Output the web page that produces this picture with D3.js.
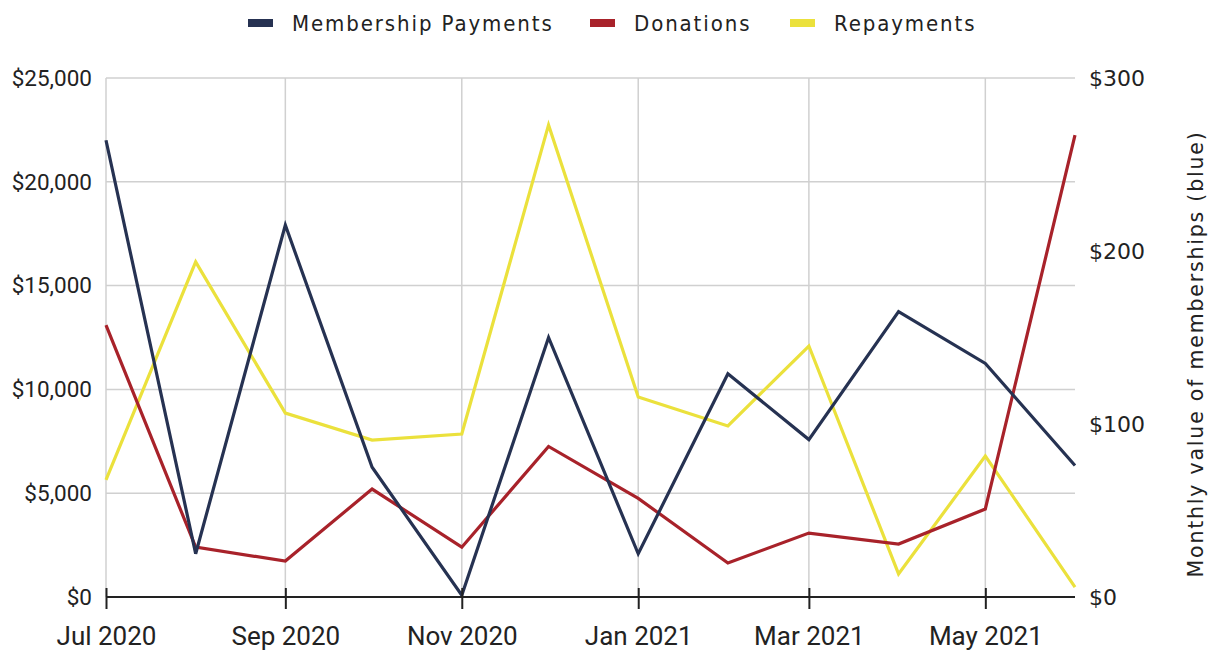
<!DOCTYPE html>
<html>
<head>
<meta charset="utf-8">
<script src="https://cdn.jsdelivr.net/npm/d3@7"></script>
<style>
  html, body { margin: 0; padding: 0; background: #fff; }
  svg { display: block; }
</style>
</head>
<body>
<svg id="chart" width="1219" height="657"></svg>
<script>
const months = ["2020-07","2020-08","2020-09","2020-10","2020-11","2020-12","2021-01","2021-02","2021-03","2021-04","2021-05","2021-06"];
const membershipPayments = [264, 25, 215, 75, 1, 150, 25, 129, 91, 165, 135, 76];
const donations = [13100, 2400, 1730, 5200, 2400, 7250, 4750, 1640, 3080, 2550, 4240, 22250];
const repayments = [5640, 16140, 8860, 7560, 7850, 22740, 9630, 8240, 12090, 1110, 6790, 480];
const leftTicks = [0, 5000, 10000, 15000, 20000, 25000];
const rightTicks = [0, 100, 200, 300];
const seriesNames = ["Membership Payments", "Donations", "Repayments"];
const seriesColors = ["#263252", "#a8222a", "#ebe13c"];

const parse = d3.timeParse("%Y-%m");
const dates = months.map(parse);

const svg = d3.select("#chart");
const margin = {left: 106, right: 1219 - 1075, top: 78, bottom: 657 - 597};
const W = 1219, H = 657;

const x = d3.scaleTime().domain([dates[0], dates[dates.length - 1]]).range([margin.left, W - margin.right]);
const yL = d3.scaleLinear().domain([0, 25000]).range([H - margin.bottom, margin.top]);
const yR = d3.scaleLinear().domain([0, 300]).range([H - margin.bottom, margin.top]);

const xTicks = dates.filter((d, i) => i % 2 === 0);

// horizontal grid
svg.append("g")
  .selectAll("line").data(leftTicks).join("line")
  .attr("x1", margin.left).attr("x2", W - margin.right)
  .attr("y1", d => yL(d)).attr("y2", d => yL(d))
  .attr("stroke", "#d0d0d0").attr("stroke-width", 1.5);

// vertical grid
svg.append("g")
  .selectAll("line").data(xTicks).join("line")
  .attr("x1", d => x(d)).attr("x2", d => x(d))
  .attr("y1", margin.top).attr("y2", H - margin.bottom)
  .attr("stroke", "#d0d0d0").attr("stroke-width", 1.5);

// left axis labels
const gl = svg.append("g").attr("transform", `translate(${margin.left},0)`)
  .call(d3.axisLeft(yL).tickValues(leftTicks).tickFormat(d => "$" + d3.format(",")(d)).tickSize(0).tickPadding(14));
gl.select(".domain").remove();
gl.selectAll("text").attr("font-family", "Roboto").attr("font-size", 22.5).attr("fill", "#222");

// right axis labels
const gr = svg.append("g").attr("transform", `translate(${W - margin.right},0)`)
  .call(d3.axisRight(yR).tickValues(rightTicks).tickFormat(d => "$" + d).tickSize(0).tickPadding(14));
gr.select(".domain").remove();
gr.selectAll("text").attr("font-family", "DejaVu Sans").attr("font-size", 22).attr("fill", "#222");

// right axis title
svg.append("text")
  .attr("transform", `translate(1203, 354) rotate(-90)`)
  .attr("text-anchor", "middle")
  .attr("font-family", "DejaVu Sans").attr("font-size", 20.5).attr("fill", "#222")
  .attr("letter-spacing", 1.8)
  .text("Monthly value of memberships (blue)");

// lines
function drawLine(values, scale, color) {
  const line = d3.line().x((d, i) => x(dates[i])).y(d => scale(d));
  svg.append("path").datum(values)
    .attr("d", line).attr("fill", "none")
    .attr("stroke", color).attr("stroke-width", 3.2)
    .attr("stroke-linejoin", "miter");
}
drawLine(repayments, yL, seriesColors[2]);
drawLine(donations, yL, seriesColors[1]);
drawLine(membershipPayments, yR, seriesColors[0]);

// x axis
const gx = svg.append("g").attr("transform", `translate(0,${H - margin.bottom})`)
  .call(d3.axisBottom(x).tickValues(xTicks).tickFormat(d3.timeFormat("%b %Y")).tickSize(12).tickPadding(18));
gx.select(".domain").attr("stroke", "#222").attr("stroke-width", 2).attr("d", `M${margin.left},0H${W - margin.right}`);
gx.selectAll(".tick line").attr("stroke", "#222").attr("stroke-width", 2).attr("y1", -9);
gx.selectAll("text").attr("font-family", "Roboto").attr("font-size", 26).attr("fill", "#222");

// legend
const legendX = [248, 590, 790];
const lg = svg.append("g");
seriesNames.forEach((name, i) => {
  lg.append("rect").attr("x", legendX[i]).attr("y", 19).attr("width", 25).attr("height", 8)
    .attr("fill", seriesColors[i]);
  lg.append("text").attr("x", legendX[i] + 44).attr("y", 31)
    .attr("font-family", "DejaVu Sans Condensed").attr("font-size", 22).attr("fill", "#222")
    .attr("letter-spacing", 1.9)
    .text(name);
});
</script>
</body>
</html>
